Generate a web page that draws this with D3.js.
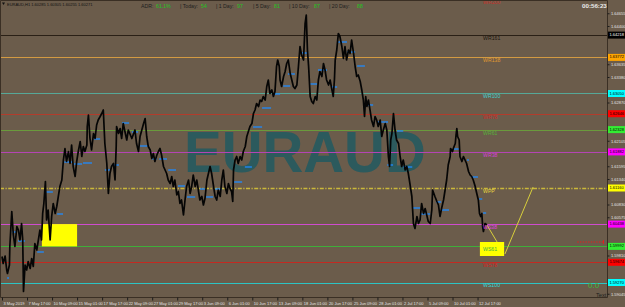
<!DOCTYPE html>
<html>
<head>
<meta charset="utf-8">
<title>EURAUD H1</title>
<script src="https://cdn.jsdelivr.net/npm/d3@7"></script>
<style>
  body { margin: 0; background: #6b5c4b; }
  svg { display: block; font-family: "Liberation Sans", Arial, sans-serif; }
</style>
</head>
<body>
<script>
// H1 closes, [bar index from 3 May 2019 00:00, price]
const series = [
  [0,1.5979],[3,1.5965],[8,1.5980],[12,1.5952],[14,1.5945],[19,1.5962],[20,1.5999],[25,1.6069],[29,1.6022],[33,1.5999],
  [38,1.6039],[42,1.6032],[46,1.6012],[50,1.6045],[53,1.6012],[55,1.5909],[59,1.5962],[63,1.5952],[67,1.5969],[72,1.5955],
  [76,1.5975],[80,1.5959],[84,1.6005],[89,1.5992],[97,1.6032],[101,1.6012],[104,1.6065],[107,1.6085],[111,1.6129],[114,1.6052],
  [118,1.6072],[123,1.6012],[127,1.6059],[131,1.6085],[136,1.6065],[140,1.6079],[144,1.6099],[148,1.6119],[153,1.6132],[157,1.6172],
  [161,1.6195],[165,1.6169],[170,1.6189],[174,1.6165],[178,1.6202],[182,1.6159],[187,1.6139],[191,1.6169],[195,1.6189],[200,1.6209],
  [204,1.6179],[208,1.6199],[212,1.6189],[217,1.6202],[218,1.6239],[221,1.6262],[225,1.6215],[229,1.6192],[234,1.6225],[238,1.6215],
  [242,1.6242],[246,1.6252],[251,1.6259],[255,1.6265],[259,1.6272],[263,1.6205],[268,1.6165],[272,1.6105],[276,1.6145],[280,1.6159],
  [285,1.6165],[289,1.6132],[292,1.6199],[293,1.6239],[298,1.6225],[302,1.6235],[306,1.6215],[310,1.6245],[319,1.6212],[323,1.6232],
  [332,1.6215],[340,1.6232],[344,1.6205],[349,1.6189],[353,1.6219],[362,1.6245],[366,1.6255],[370,1.6219],[374,1.6199],[379,1.6192],
  [383,1.6175],[387,1.6185],[391,1.6169],[396,1.6182],[400,1.6189],[404,1.6195],[408,1.6182],[413,1.6159],[417,1.6152],[421,1.6145],
  [425,1.6132],[430,1.6125],[434,1.6139],[438,1.6119],[442,1.6132],[447,1.6102],[451,1.6109],[455,1.6085],[459,1.6092],[464,1.6062],
  [468,1.6092],[472,1.6119],[477,1.6132],[481,1.6105],[485,1.6119],[489,1.6142],[494,1.6119],[498,1.6132],[502,1.6112],[506,1.6092],
  [511,1.6099],[515,1.6082],[519,1.6095],[524,1.6132],[532,1.6159],[536,1.6145],[541,1.6119],[545,1.6099],[549,1.6092],[553,1.6112],
  [558,1.6099],[562,1.6132],[566,1.6152],[570,1.6119],[575,1.6105],[579,1.6125],[583,1.6115],[587,1.6109],[590,1.6089],[592,1.6152],
  [596,1.6172],[600,1.6179],[604,1.6165],[609,1.6179],[613,1.6172],[617,1.6189],[622,1.6199],[626,1.6219],[630,1.6229],[634,1.6239],
  [639,1.6245],[643,1.6265],[647,1.6272],[651,1.6285],[656,1.6279],[660,1.6292],[664,1.6289],[668,1.6299],[673,1.6292],[677,1.6319],
  [681,1.6332],[685,1.6305],[690,1.6312],[694,1.6299],[698,1.6309],[702,1.6359],[705,1.6372],[709,1.6359],[711,1.6332],[715,1.6319],
  [720,1.6339],[724,1.6349],[728,1.6365],[732,1.6372],[737,1.6345],[741,1.6332],[745,1.6319],[749,1.6315],[754,1.6322],[758,1.6359],
  [762,1.6399],[766,1.6382],[771,1.6372],[775,1.6445],[778,1.6462],[781,1.6392],[784,1.6359],[788,1.6299],[792,1.6289],[796,1.6285],
  [801,1.6299],[805,1.6292],[809,1.6332],[813,1.6349],[818,1.6339],[822,1.6365],[826,1.6352],[830,1.6332],[835,1.6322],[839,1.6332],
  [843,1.6315],[847,1.6299],[850,1.6332],[852,1.6372],[856,1.6392],[860,1.6425],[864,1.6419],[869,1.6399],[873,1.6375],[877,1.6399],
  [881,1.6372],[886,1.6392],[890,1.6385],[894,1.6412],[899,1.6385],[903,1.6359],[907,1.6339],[911,1.6342],[916,1.6329],[920,1.6312],
  [924,1.6292],[927,1.6259],[930,1.6299],[933,1.6279],[937,1.6292],[941,1.6272],[945,1.6252],[950,1.6239],[954,1.6259],[958,1.6252],
  [962,1.6239],[967,1.6252],[971,1.6219],[975,1.6232],[980,1.6245],[984,1.6232],[988,1.6179],[991,1.6159],[994,1.6212],[997,1.6225],
  [1001,1.6265],[1005,1.6232],[1009,1.6212],[1014,1.6205],[1018,1.6179],[1022,1.6159],[1026,1.6172],[1031,1.6152],[1035,1.6159],[1039,1.6145],
  [1043,1.6125],[1048,1.6099],[1050,1.6072],[1052,1.6045],[1056,1.6035],[1061,1.6059],[1065,1.6045],[1069,1.6052],[1073,1.6085],[1078,1.6065],
  [1082,1.6075],[1086,1.6062],[1090,1.6049],[1095,1.6045],[1099,1.6072],[1101,1.6112],[1107,1.6099],[1112,1.6089],[1116,1.6082],[1120,1.6059],
  [1124,1.6075],[1129,1.6092],[1133,1.6112],[1137,1.6132],[1141,1.6162],[1146,1.6179],[1147,1.6195],[1152,1.6189],[1154,1.6195],[1159,1.6205],
  [1161,1.6222],[1163,1.6235],[1165,1.6219],[1169,1.6212],[1171,1.6179],[1176,1.6169],[1180,1.6179],[1184,1.6172],[1188,1.6165],[1193,1.6149],
  [1197,1.6142],[1201,1.6139],[1205,1.6132],[1210,1.6119],[1214,1.6105],[1218,1.6092],[1221,1.6065],[1224,1.6059],[1227,1.6065],[1229,1.6039],
  [1231,1.6029],[1235,1.6045],[1240,1.6042]
];

// short blue indicator marks: [from bar, to bar, price]
const marks = [
  [13,18,1.5936],[26,38,1.6028],[41,59,1.6010],[90,107,1.5988],[113,130,1.6108],[141,156,1.6064],[159,179,1.6168],
  [184,205,1.6164],[207,230,1.6166],[235,251,1.6214],[263,276,1.6152],[281,299,1.6162],[307,325,1.6246],[332,348,1.6228],
  [353,373,1.6200],[384,396,1.6174],[402,422,1.6174],[425,445,1.6152],[450,468,1.6120],[473,494,1.6098],[506,519,1.6114],
  [522,540,1.6098],[545,563,1.6114],[591,614,1.6128],[621,639,1.6158],[642,665,1.6238],[665,688,1.6276],[691,711,1.6304],
  [719,737,1.6320],[731,749,1.6344],[767,783,1.6386],[788,806,1.6324],[808,831,1.6352],[844,857,1.6318],[857,882,1.6408],
  [882,903,1.6388],[908,928,1.6360],[933,949,1.6282],[959,987,1.6248],[1010,1026,1.6230],[985,1000,1.6162],[1026,1049,1.6158],
  [1051,1069,1.6076],[1069,1095,1.6064],[1110,1123,1.6088],[1125,1143,1.6072],[1153,1169,1.6194],[1189,1194,1.6172],
  [1199,1217,1.6138],[1220,1228,1.6094],[1230,1238,1.6066]
];

const levelNames  = ["WR200","WR161","WR138","WR100","WR78","WR61","WR38","WPP","WS38","WS61","WS78","WS100"];
const levelValues = [1.64940,1.64218,1.63772,1.63050,1.62646,1.62328,1.61882,1.61160,1.60438,1.59992,1.59674,1.59270];

// yellow zones: [from bar, to bar, top price, bottom price]
const zones = [[102,192,1.60438,1.59992],[1222,1284,1.60080,1.59800]];
// projection legs: [[bar, price], [bar, price]]
const projection = [[[1240,1.6042],[1266,1.6008]],[[1286,1.5984],[1358,1.6118]]];
const bidMarker = [[1471,1.6008],[1538,1.6008]];

const timeBars = d3.range(0, 1217, 64);
const timeLabels = ["3 May 2019","7 May 17:00","10 May 09:00","15 May 01:00","17 May 17:00","22 May 09:00","27 May 01:00",
  "29 May 17:00","3 Jun 09:00","6 Jun 01:00","10 Jun 17:00","13 Jun 09:00","18 Jun 01:00","20 Jun 17:00","25 Jun 09:00",
  "28 Jun 01:00","2 Jul 17:00","5 Jul 09:00","10 Jul 01:00","12 Jul 17:00"];
const priceTicks = [1.64655,1.64400,1.64145,1.63890,1.63635,1.63380,1.63125,1.62870,1.62615,1.62360,1.62105,1.61850,
  1.61595,1.61340,1.61085,1.60830,1.60575,1.60320,1.60065,1.59810,1.59555,1.59300,1.59045];

const adrNames  = ["ADR:","| Today:","| 1 Day:","| 5 Day:","| 10 Day:","| 20 Day:"];
const adrValues = ["61.1%","54","97","81","87","88"];

// styles
const lineColor = {WR200:"#b8352a",WR161:"#2a2016",WR138:"#d39a42",WR100:"#56a898",WR78:"#b23c2c",WR61:"#6a9a3c",
  WR38:"#b444b4",WPP:"#cbb83a",WS38:"#cf4ccf",WS61:"#3fae3a",WS78:"#c22a22",WS100:"#2cc4c4"};
const labelColor = {WR200:"#c8302a",WR161:"#1a140e",WR138:"#e09a30",WR100:"#40d0d0",WR78:"#d02a2a",WR61:"#56b03a",
  WR38:"#d840d8",WPP:"#e8d840",WS38:"#e040e0",WS61:"#40b040",WS78:"#d82020",WS100:"#38d8d8"};
const boxColor = {WR200:"#ff0000",WR161:"#000000",WR138:"#ffa500",WR100:"#00ffff",WR78:"#ff0000",WR61:"#33ee33",
  WR38:"#ff00ff",WPP:"#ffff00",WS38:"#ff00ff",WS61:"#33ee33",WS78:"#ff0000",WS100:"#00ffff"};

const W = 625, H = 307, R = 607, B = 297;
const x = d3.scaleLinear().domain([0, 1547]).range([2, R]);
const y = d3.scaleLinear().domain([1.5898, 1.6492]).range([B, 0]);

const svg = d3.select("body").append("svg").attr("width", W).attr("height", H);
svg.append("rect").attr("width", W).attr("height", H).attr("fill", "#6b5c4b");

svg.append("defs").append("clipPath").attr("id", "plot")
  .append("rect").attr("x", 0).attr("y", 0).attr("width", R).attr("height", B);
const g = svg.append("g").attr("clip-path", "url(#plot)");

// watermark
g.append("text").attr("x", 184).attr("y", 172)
  .attr("font-size", 56.5).attr("font-weight", "bold").attr("fill", "#2c5a5d")
  .text("EURAUD");

// pivot levels
const levels = levelNames.map((n, i) => ({name: n, value: levelValues[i]}));
g.selectAll("line.level").data(levels).enter().append("line")
  .attr("x1", 0).attr("x2", R)
  .attr("y1", d => Math.round(y(d.value)) + 0.5).attr("y2", d => Math.round(y(d.value)) + 0.5)
  .attr("stroke", d => lineColor[d.name])
  .attr("stroke-width", d => d.name == "WPP" ? 1.3 : 1)
  .attr("stroke-dasharray", d => d.name == "WPP" ? "4,1.5,1.2,1.5" : null);

// zones
g.selectAll("rect.zone").data(zones).enter().append("rect")
  .attr("x", d => x(d[0])).attr("width", d => x(d[1]) - x(d[0]))
  .attr("y", d => y(d[2])).attr("height", d => y(d[3]) - y(d[2]))
  .attr("fill", "#ffff00");

// blue marks
g.selectAll("line.mark").data(marks).enter().append("line")
  .attr("x1", d => x(d[0])).attr("x2", d => x(d[1]))
  .attr("y1", d => y(d[2])).attr("y2", d => y(d[2]))
  .attr("stroke", "#1e8cff").attr("stroke-width", 1.3);

// price
const line = d3.line().x(d => x(d[0])).y(d => y(d[1]));
g.append("path").datum(series)
  .attr("fill", "none").attr("stroke", "#050505")
  .attr("stroke-width", 1.7).attr("stroke-linejoin", "round")
  .attr("d", line);

// projection
g.selectAll("path.proj").data(projection).enter().append("path")
  .attr("fill", "none").attr("stroke", "#d8cf3c").attr("stroke-width", 1)
  .attr("d", line);

// level labels
g.selectAll("text.level").data(levels).enter().append("text")
  .attr("x", x(1230)).attr("y", d => y(d.value) + 3.6)
  .attr("dominant-baseline", "middle")
  .attr("font-size", 5.2).attr("fill", d => labelColor[d.name])
  .text(d => d.name);

// bid marker
g.append("path").datum(bidMarker)
  .attr("fill", "none").attr("stroke", "#e02020").attr("stroke-width", 1)
  .attr("stroke-dasharray", "1.5,1.2").attr("d", line);
g.append("line")
  .attr("x1", x(bidMarker[1][0])).attr("x2", x(bidMarker[1][0]))
  .attr("y1", y(bidMarker[1][1]) - 2).attr("y2", y(bidMarker[1][1]) + 2)
  .attr("stroke", "#e02020");

// header texts
svg.append("path").attr("d", "M2,2.5 L5,2.5 L3.5,5 Z").attr("fill", "#111");
svg.append("text").attr("x", 7).attr("y", 5.5).attr("font-size", 4).attr("fill", "#111")
  .text("EURAUD,H1  1.60285 1.60305 1.60255 1.60271");

const adrX = [141, 180, 216, 253, 289, 329];
const adrVX = [156, 201, 237, 274, 314, 357];
const adr = svg.append("g").attr("font-size", 5.2);
adr.selectAll("text.n").data(adrNames).enter().append("text")
  .attr("x", (d, i) => adrX[i]).attr("y", 7.8).attr("fill", "#1e1e1e").text(d => d);
adr.selectAll("text.v").data(adrValues).enter().append("text")
  .attr("x", (d, i) => adrVX[i]).attr("y", 7.8).attr("fill", "#22c422").text(d => d);

svg.append("text").attr("x", 582).attr("y", 7.5).attr("font-size", 6.2)
  .attr("font-weight", "bold").attr("fill", "#ececec").text("00:56:23");

svg.append("text").attr("x", 588).attr("y", 287.5).attr("font-size", 8)
  .attr("fill", "#3cbc3c").text("0.0");
svg.append("text").attr("x", 596).attr("y", 297).attr("font-size", 5.6)
  .attr("fill", "#1c1c1c").text("Text");

// frame
svg.append("path").attr("d", `M0.5,${B}.5 V0.5 H${R}.5 V${B}.5 H0.5`)
  .attr("fill", "none").attr("stroke", "#3a2f24").attr("stroke-width", 1);

// levels that sit inside the visible price range get a box on the axis
const boxed = levels.filter(d => y(d.value) > 6 && y(d.value) < B - 4);
const freeTicks = priceTicks.filter(t => boxed.every(d => Math.abs(y(d.value) - y(t)) > 6.5));

const yAxis = svg.append("g").attr("transform", `translate(${R + 0.5},0)`)
  .call(d3.axisRight(y).tickValues(freeTicks).tickSize(2).tickPadding(1.5)
    .tickFormat(d3.format(".5f")));
yAxis.select(".domain").remove();
yAxis.selectAll("line").attr("stroke", "#1c1c1c");
yAxis.selectAll("text").attr("font-size", 4).attr("fill", "#e4e4e4")
  .attr("font-family", "'Liberation Sans', Arial, sans-serif");

const xAxis = svg.append("g").attr("transform", `translate(0,${B + 0.5})`)
  .call(d3.axisBottom(x).tickValues(timeBars).tickSize(3).tickPadding(1.5)
    .tickFormat((d, i) => timeLabels[i]));
xAxis.select(".domain").remove();
xAxis.selectAll("line").attr("stroke", "#1c1c1c");
xAxis.selectAll("text").attr("font-size", 4).attr("fill", "#e4e4e4")
  .attr("text-anchor", "start").attr("dx", 1)
  .attr("font-family", "'Liberation Sans', Arial, sans-serif");

// price boxes on the axis
const boxes = svg.append("g");
boxes.selectAll("rect").data(boxed).enter().append("rect")
  .attr("x", R + 1).attr("width", W - R - 1)
  .attr("y", d => y(d.value) - 3.5).attr("height", 7)
  .attr("fill", d => boxColor[d.name]);
boxes.selectAll("text").data(boxed).enter().append("text")
  .attr("x", R + 2.5).attr("y", d => y(d.value))
  .attr("dominant-baseline", "middle")
  .attr("font-size", 4).attr("fill", d => d.name == "WR161" ? "#ffffff" : "#000000")
  .text(d => d3.format(".5f")(d.value));
</script>
</body>
</html>
